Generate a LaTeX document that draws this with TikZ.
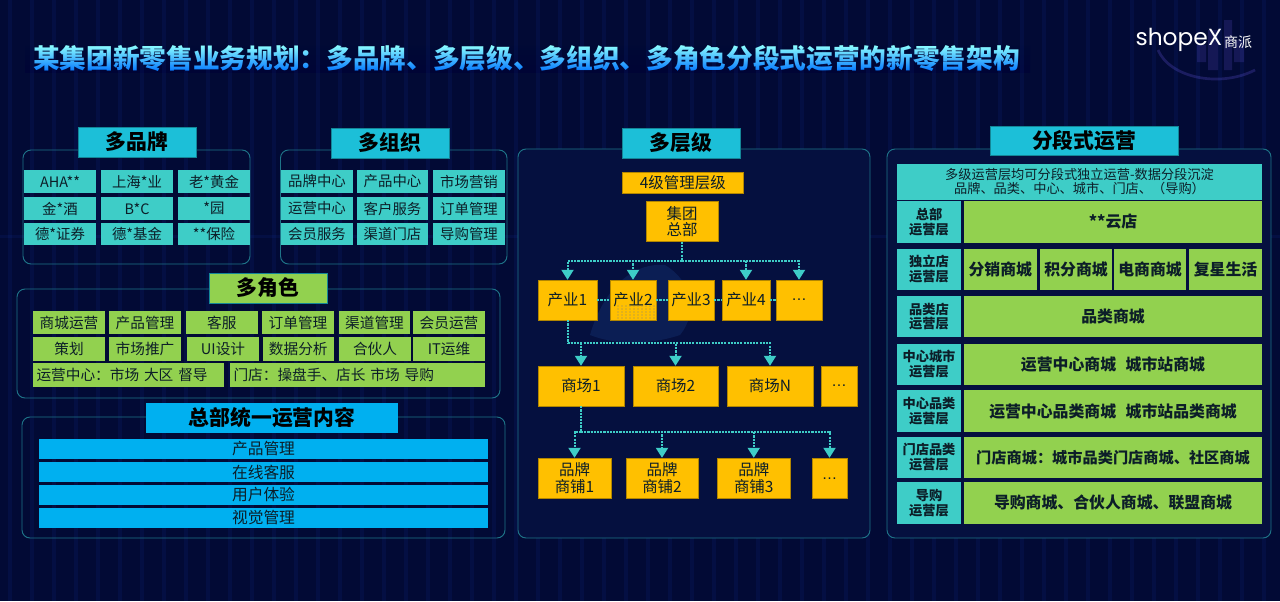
\documentclass[tikz,border=0pt]{standalone}
\usepackage{fontspec}
\setmainfont{Noto Sans CJK SC}
\newfontfamily\logofont{Poppins}
\newfontfamily\latinfont{Liberation Sans}
\usetikzlibrary{arrows.meta,calc}
\definecolor{bgnavy}{HTML}{020A35}
\definecolor{panelnavy}{HTML}{05103F}
\definecolor{stripe}{HTML}{0A1E5C}
\definecolor{globe}{HTML}{14306E}
\definecolor{teal}{HTML}{1CBFD8}
\definecolor{cellteal}{HTML}{3ECDC7}
\definecolor{green}{HTML}{92D14F}
\definecolor{sky}{HTML}{00B0F0}
\definecolor{amber}{HTML}{FFC000}
\definecolor{frameline}{HTML}{1E7488}
\definecolor{inkdark}{HTML}{0C1E28}
\definecolor{logopurple}{HTML}{2D2A7E}
\tikzset{
  x=0.75pt,y=-0.75pt,
  cellbase/.style={inner sep=0pt,align=center,text=inkdark,font=\fontsize{10.8}{13}\selectfont},
  panel/.style={draw=frameline,line width=0.7pt,rounded corners=6pt},
  head/.style={cellbase,fill=teal,draw=teal!70!black,line width=0.4pt,font=\fontsize{15.6}{18}\bfseries\selectfont,text=black},
  tealcell/.style={cellbase,fill=cellteal},
  greencell/.style={cellbase,fill=green,font=\fontsize{11}{13}\selectfont},
  leftcell/.style={greencell,align=left,inner xsep=2.5pt},
  bluebar/.style={cellbase,fill=sky,font=\fontsize{11.8}{13}\selectfont},
  ambox/.style={cellbase,fill=amber,draw=amber!70!black,line width=0.3pt,font=\fontsize{11.6}{12.3}\selectfont},
  layercell/.style={cellbase,fill=cellteal,font=\fontsize{9.9}{11}\bfseries\selectfont},
  shopcell/.style={cellbase,fill=green,font=\fontsize{11.9}{14}\bfseries\selectfont},
  conn/.style={draw=cellteal,line width=1.5pt,dash pattern=on 1.6pt off 0.8pt},
  tipconn/.style={conn,-{Triangle[length=7.5pt,width=9pt]}},
}
\newcommand{\fwcolon}{^^^^ff1a}
\newcommand{\cellbox}[7][]{%
  \pgfmathsetmacro{\cw}{(#5-#3)*0.75}\pgfmathsetmacro{\ch}{(#6-#4)*0.75}%
  \node[#7,minimum width=\cw pt,minimum height=\ch pt,#1] (#2) at ({(#3+#5)/2},{(#4+#6)/2})}
\begin{document}
\begin{tikzpicture}
\useasboundingbox (0,0) rectangle (1280,601);
\fill[bgnavy] (0,0) rectangle (1280,601);
% skyline and arc behind the logo
\fill[logopurple,opacity=0.45] (1197,45) rectangle (1206,62) (1208,30) rectangle (1218,70) (1224,20) rectangle (1232,70) (1234,40) rectangle (1244,62);
\draw[logopurple,line width=2pt,opacity=0.6] (1158,50) .. controls (1170,78) and (1220,88) .. (1255,70);
\node[inner sep=0pt,font=\logofont\fontsize{17.5}{18}\selectfont,text=white] (logoa) at (1179,40) {shopeX};
\node[inner sep=0pt,font=\fontsize{10.5}{12}\selectfont,text=white] (logob) at (1238,42) {商派};
% title
\node[inner sep=0pt,anchor=west,text=white,font=\fontsize{20}{24}\bfseries\selectfont] (title) at (33,58) {某集团新零售业务规划\fwcolon 多品牌、多层级、多组织、多角色分段式运营的新零售架构};
\shade[top color=cyan!45!white,bottom color=blue!55!cyan,blend mode=multiply] (25,45) rectangle (1030,72);
% faint stripes of the backdrop
\foreach \sx [count=\si] in {8,30,52,74,96,118,140,162,184,206,228,250,272,294,316,338,360,382,404,426,448,470,492,514,536,558,580,602,624,646,668,690,712,734,756,778,800,822,844,866,888,910,932,954,976,998,1020,1042,1064,1086,1108,1130,1152,1174,1196,1218,1240,1262}
  {\fill[stripe,opacity=0.2,blend mode=screen] (\sx,0) rectangle ++(4,601);}
\fill[stripe,opacity=0.2,blend mode=screen] (0,235) rectangle (1280,238);

% ---- panels
\draw[panel] (23,150) rectangle (250,264);
\draw[panel] (280.5,150) rectangle (507,264);
\draw[panel] (17,289) rectangle (500,398);
\draw[panel] (22,417) rectangle (505,538);
\draw[panel,fill=panelnavy] (518,149) rectangle (870,538);
\draw[panel,fill=panelnavy] (887,149) rectangle (1271,538);
% faint globe behind the level chart
\fill[globe,opacity=0.45] (590,335) .. controls (600,300) and (625,262) .. (665,265) .. controls (690,280) and (700,310) .. (680,335) .. controls (650,345) and (615,345) .. (590,335);

% ---- multi-brand
\cellbox[fill=teal]{hbrand}{78}{127}{196}{157}{head} {多品牌};
\cellbox{b11}{24}{170}{96}{193}{tealcell} {AHA**};
\cellbox{b12}{101}{170}{173}{193}{tealcell} {上海*业};
\cellbox{b13}{178}{170}{250}{193}{tealcell} {老*黄金};
\cellbox{b21}{24}{197}{96}{220}{tealcell} {金*酒};
\cellbox{b22}{101}{197}{173}{220}{tealcell} {B*C};
\cellbox{b23}{178}{197}{250}{220}{tealcell} {*园};
\cellbox{b31}{24}{223}{96}{245}{tealcell} {德*证券};
\cellbox{b32}{101}{223}{173}{245}{tealcell} {德*基金};
\cellbox{b33}{178}{223}{250}{245}{tealcell} {**保险};

% ---- multi-organisation
\cellbox{horg}{331}{128}{449}{158}{head} {多组织};
\cellbox{o11}{281}{170}{353}{193}{tealcell} {品牌中心};
\cellbox{o12}{357}{170}{428}{193}{tealcell} {产品中心};
\cellbox{o13}{433}{170}{505}{193}{tealcell} {市场营销};
\cellbox{o21}{281}{197}{353}{220}{tealcell} {运营中心};
\cellbox{o22}{357}{197}{428}{220}{tealcell} {客户服务};
\cellbox{o23}{433}{197}{505}{220}{tealcell} {订单管理};
\cellbox{o31}{281}{223}{353}{245}{tealcell} {会员服务};
\cellbox{o32}{357}{223}{428}{245}{tealcell} {渠道门店};
\cellbox{o33}{433}{223}{505}{245}{tealcell} {导购管理};

% ---- multi-role
\cellbox[fill=green]{hrole}{209}{273}{327}{303}{head} {多角色};
\cellbox{r11}{33}{311}{105}{334}{greencell} {商城运营};
\cellbox{r12}{109}{311}{181}{334}{greencell} {产品管理};
\cellbox{r13}{185.5}{311}{258}{334}{greencell} {客服};
\cellbox{r14}{262}{311}{334}{334}{greencell} {订单管理};
\cellbox{r15}{339}{311}{410}{334}{greencell} {渠道管理};
\cellbox{r16}{413}{311}{485}{334}{greencell} {会员运营};
\cellbox{r21}{33}{337}{105}{361}{greencell} {策划};
\cellbox{r22}{109}{337}{181}{361}{greencell} {市场推广};
\cellbox{r23}{187}{337}{259}{361}{greencell} {UI设计};
\cellbox{r24}{262.5}{337}{334}{361}{greencell} {数据分析};
\cellbox{r25}{339}{337}{411}{361}{greencell} {合伙人};
\cellbox{r26}{413}{337}{485}{361}{greencell} {IT运维};
\cellbox[text width=138pt]{r31}{33}{363}{224}{386.5}{leftcell} {运营中心\fwcolon 市场 大区 督导};
\cellbox[text width=186pt]{r32}{230}{363}{485}{386.5}{leftcell} {门店\fwcolon 操盘手、店长 市场 导购};

% ---- HQ
\cellbox[fill=sky,draw=none]{hhq}{146}{403}{398}{433}{head} {总部统一运营内容};
\cellbox{q1}{39}{439}{488}{459}{bluebar} {产品管理};
\cellbox{q2}{39}{462}{488}{482}{bluebar} {在线客服};
\cellbox{q3}{39}{484.5}{488}{505}{bluebar} {用户体验};
\cellbox{q4}{39}{508}{488}{528}{bluebar} {视觉管理};

% ---- levels
\cellbox{hlevel}{622}{128}{740}{158}{head} {多层级};
\cellbox{l0}{622}{172}{743.5}{193.5}{ambox} {4级管理层级};
\cellbox{hq}{646}{201.5}{718}{241.5}{ambox} {集团\\总部};
\cellbox{c1}{538}{280}{597}{320}{ambox} {产业1};
\cellbox{c2}{610}{280}{656}{320}{ambox} {产业2};
\cellbox{c3}{668}{280}{714}{320}{ambox} {产业3};
\cellbox{c4}{722}{280}{770}{320}{ambox} {产业4};
\cellbox{c5}{776}{280}{822}{320}{ambox} {{\latinfont …}};
\cellbox{m1}{538}{366}{624}{406}{ambox} {商场1};
\cellbox{m2}{633}{366}{718}{406}{ambox} {商场2};
\cellbox{m3}{727}{366}{813}{406}{ambox} {商场N};
\cellbox{m4}{821}{366}{857}{406}{ambox} {{\latinfont …}};
\cellbox{s1}{538}{458}{611}{498.5}{ambox} {品牌\\商铺1};
\cellbox{s2}{626}{458}{698}{498.5}{ambox} {品牌\\商铺2};
\cellbox{s3}{717.5}{458}{790}{498.5}{ambox} {品牌\\商铺3};
\cellbox{s4}{812}{458}{847}{498.5}{ambox} {{\latinfont …}};
% dotted speckle of the backdrop showing on the box
\foreach \dy in {306,309,312,315,318}
  \foreach \dx in {618,622,626,630,634,638,642,646,650,654}
    {\fill[gray,opacity=0.45] (\dx,\dy) circle[radius=0.9];}
% connectors
\coordinate (busa) at ($(hq.south)+(0,19.5)$);
\coordinate (busb) at ($(c1.south)+(0,23)$);
\coordinate (busc) at ($(m1.south)+(0,26)$);
\draw[conn] (hq.south) -- (busa);
\draw[tipconn] (busa) -| (c1.north);
\draw[tipconn] (busa) -| (c2.north);
\draw[tipconn] (busa) -| (c4.north);
\draw[tipconn] (busa) -| (c5.north);
\draw[conn] (c1.east) -- (c2.west);
\draw[conn] (c2.east) -- (c3.west);
\draw[conn] (c3.east) -- (c4.west);
\draw[conn] (c4.east) -- (c5.west);
\draw[conn] (c1.south) -- (busb);
\draw[tipconn] (busb) -| (m1.north);
\draw[tipconn] (busb) -| (m2.north);
\draw[tipconn] (busb) -| (m3.north);
\draw[conn] (m1.south) -- (busc);
\draw[tipconn] (busc) -| (s1.north);
\draw[tipconn] (busc) -| (s2.north);
\draw[tipconn] (busc) -| (s3.north);
\draw[tipconn] (busc) -| (s4.north);

% ---- staged operation
\cellbox{hstage}{990}{126}{1178}{155.5}{head} {分段式运营};
\cellbox[font=\fontsize{9.9}{10.5}\selectfont]{stagenote}{897}{164}{1262}{200}{tealcell} {多级运营层均可分段式独立运营-数据分段沉淀\\品牌、品类、中心、城市、门店、^^^^ff08导购^^^^ff09};
\cellbox{la}{897}{201}{961}{243}{layercell} {总部\\运营层};
\cellbox{lb}{897}{248.5}{961}{290}{layercell} {独立店\\运营层};
\cellbox{lc}{897}{296}{961}{337}{layercell} {品类店\\运营层};
\cellbox{ld}{897}{343.5}{961}{385}{layercell} {中心城市\\运营层};
\cellbox{le}{897}{390}{961}{432}{layercell} {中心品类\\运营层};
\cellbox{lf}{897}{436.5}{961}{478}{layercell} {门店品类\\运营层};
\cellbox{lg}{897}{482}{961}{523.5}{layercell} {导购\\运营层};
\cellbox{pa}{964}{201}{1262}{243}{shopcell} {**云店};
\cellbox{pb1}{964}{248.5}{1036.5}{290}{shopcell} {分销商城};
\cellbox{pb2}{1040}{248.5}{1112}{290}{shopcell} {积分商城};
\cellbox{pb3}{1114}{248.5}{1186}{290}{shopcell} {电商商城};
\cellbox{pb4}{1189}{248.5}{1262}{290}{shopcell} {复星生活};
\cellbox{pc}{964}{296}{1262}{337}{shopcell} {品类商城};
\cellbox{pd}{964}{343.5}{1262}{385}{shopcell} {运营中心商城\hspace{0.6em}城市站商城};
\cellbox{pe}{964}{390}{1262}{432}{shopcell} {运营中心品类商城\hspace{0.6em}城市站品类商城};
\cellbox[font=\fontsize{11.4}{14}\bfseries\selectfont]{pf}{964}{436.5}{1262}{478}{shopcell} {门店商城\fwcolon 城市品类门店商城、社区商城};
\cellbox{pg}{964}{482}{1262}{523.5}{shopcell} {导购商城、合伙人商城、联盟商城};
\end{tikzpicture}
\end{document}
